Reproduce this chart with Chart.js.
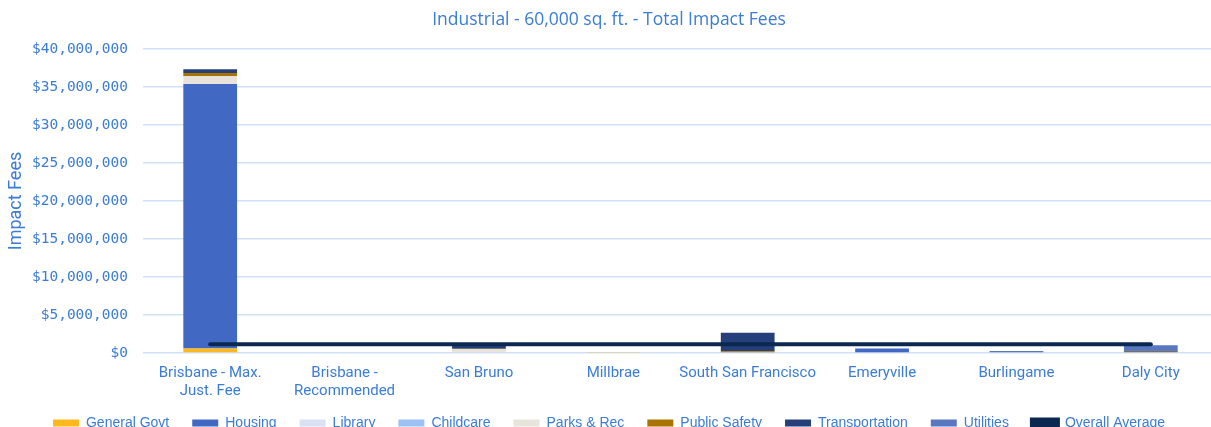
<!DOCTYPE html>
<html>
<head>
<meta charset="utf-8">
<script src="https://cdn.jsdelivr.net/npm/chart.js@4/dist/chart.umd.min.js"></script>
<style>
    html, body { margin: 0; padding: 0; background: #fff; overflow: hidden; }
    #wrap { position: relative; width: 1218px; height: 458px; }
</style>
</head>
<body>
<div id="wrap"><canvas id="myChart"></canvas></div>
<script>
// categories and series (dollars)
const cities = [["Brisbane - Max.", "Just. Fee"], ["Brisbane -", "Recommended"], "San Bruno", "Millbrae",
    "South San Francisco", "Emeryville", "Burlingame", "Daly City"];

const generalGovt    = [600000, 0, 0, 120000, 0, 0, 0, 0];
const housing        = [34800000, 0, 0, 0, 0, 600000, 0, 0];
const library        = [0, 0, 0, 0, 0, 0, 0, 0];
const childcare      = [0, 0, 0, 0, 0, 0, 0, 0];
const parksRec       = [1000000, 0, 500000, 0, 100000, 0, 0, 100000];
const publicSafety   = [450000, 0, 50000, 0, 120000, 0, 0, 70000];
const transportation = [480000, 0, 400000, 0, 2450000, 0, 0, 150000];
const utilities      = [0, 0, 0, 0, 0, 0, 250000, 700000];
const overallAverage = [1150000, 1150000, 1150000, 1150000, 1150000, 1150000, 1150000, 1150000];

const yTicks = [0, 5000000, 10000000, 15000000, 20000000, 25000000, 30000000, 35000000, 40000000];

const textBlue = "#3b7cd7";

function barSet(label, data, color) {
    return {
        type: "bar",
        label: label,
        data: data,
        backgroundColor: color,
        borderWidth: 0,
        stack: "fees",
        barPercentage: 0.4,
        categoryPercentage: 1.0
    };
}

// move the legend a bit closer to the category labels
const legendShift = {
    id: "legendShift",
    afterLayout(chart) {
        chart.legend.top -= 18;
        chart.legend.bottom -= 18;
    }
};

const ctx = document.getElementById("myChart").getContext("2d");

new Chart(ctx, {
    data: {
        labels: cities,
        datasets: [
            barSet("General Govt", generalGovt, "#ffb81c"),
            barSet("Housing", housing, "#4169c4"),
            barSet("Library", library, "#d9e1f2"),
            barSet("Childcare", childcare, "#9cc2f5"),
            barSet("Parks & Rec", parksRec, "#e8e4dc"),
            barSet("Public Safety", publicSafety, "#a87300"),
            barSet("Transportation", transportation, "#243f7a"),
            barSet("Utilities", utilities, "#5877c0"),
            {
                type: "line",
                label: "Overall Average",
                data: overallAverage,
                borderColor: "#0b2850",
                backgroundColor: "#0b2850",
                borderWidth: 4,
                pointRadius: 0,
                stack: "avg",
                order: -1, // draw over the bars
                borderCapStyle: "round"
            }
        ]
    },
    options: {
        responsive: true,
        maintainAspectRatio: false,
        animation: false,
        layout: { padding: 0 },
        plugins: {
            title: {
                display: true,
                text: "Industrial - 60,000 sq. ft. - Total Impact Fees",
                color: textBlue,
                font: { family: "Open Sans", size: 17.5, weight: "normal" },
                padding: { top: 10, bottom: 18 }
            },
            legend: {
                position: "bottom",
                labels: {
                    color: textBlue,
                    font: { family: "Liberation Sans", size: 14 },
                    boxWidth: 26,
                    boxHeight: 7,
                    padding: 23,
                    sort: (a, b) => a.datasetIndex - b.datasetIndex
                }
            },
            tooltip: { enabled: false }
        },
        scales: {
            x: {
                stacked: true,
                grid: { display: false, drawTicks: false },
                border: { display: false },
                ticks: {
                    color: textBlue,
                    font: { family: "Roboto", size: 15 },
                    padding: 11,
                    maxRotation: 0,
                    autoSkip: false
                }
            },
            y: {
                stacked: true,
                min: 0,
                max: 40000000,
                afterBuildTicks: function (scale) {
                    scale.ticks = yTicks.map(v => ({ value: v }));
                },
                afterFit: function (scale) {
                    scale.width = 143;
                },
                grid: { color: "#d0e1f7", lineWidth: 1.5, drawTicks: false },
                border: { display: false },
                ticks: {
                    color: textBlue,
                    font: { family: "DejaVu Sans Mono", size: 14.5 },
                    padding: 15,
                    callback: function (value) {
                        return "$" + Number(value).toLocaleString("en-US");
                    }
                },
                title: {
                    display: true,
                    text: "Impact Fees",
                    color: textBlue,
                    font: { family: "Roboto", size: 18 },
                    padding: { top: 6, bottom: 0 }
                }
            }
        }
    },
    plugins: [legendShift]
});
</script>
</body>
</html>
